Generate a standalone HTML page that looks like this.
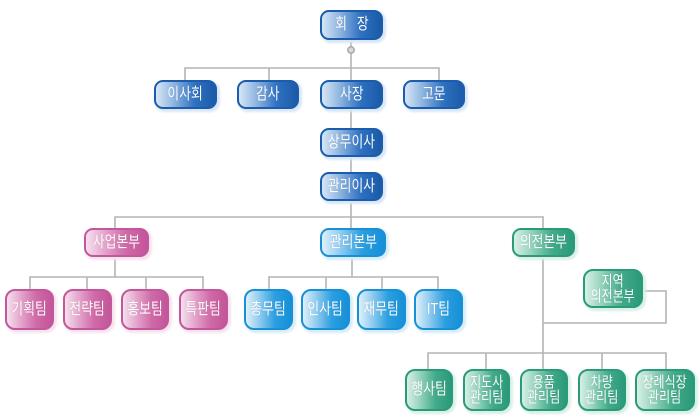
<!DOCTYPE html>
<html><head><meta charset="utf-8">
<style>
html,body{margin:0;padding:0;background:#fff;}
#c{position:relative;width:700px;height:420px;overflow:hidden;background:#fff;font-family:"Liberation Sans","Noto Sans CJK KR","NanumGothic",sans-serif;}
svg{position:absolute;left:0;top:0;}
.n{position:absolute;box-sizing:border-box;border:2px solid;border-radius:9px;color:#fff;display:flex;align-items:center;justify-content:center;text-align:center;font-size:16px;line-height:16px;white-space:nowrap;text-shadow:0 0 1px rgba(0,0,0,0.2);}
.n span{display:inline-block;transform:scaleX(0.8);}
.t{border-radius:10px;}
.b{border-color:#1b5dac;background:linear-gradient(to right,#d6e6f6 0%,#8fb5e0 30%,#2f72c2 65%,#1a5aa8 100%);box-shadow:2px 2px 2px 1px #d8e6f6;}
.lb{border-color:#1890d8;background:linear-gradient(to right,#dff0fa 0%,#8fcbef 30%,#2a9ee0 65%,#1690d8 100%);box-shadow:2px 2px 2px 1px #d6ecf8;}
.p{border-color:#c2579b;background:linear-gradient(to right,#f6e0ee 0%,#e4a6cc 30%,#cf6aa8 65%,#c4559a 100%);box-shadow:2px 2px 2px 1px #f6e2ee;}
.g{border-color:#2b9a7a;background:linear-gradient(to right,#d8f0e6 0%,#94d2bc 30%,#42aa8a 65%,#2b9a7a 100%);box-shadow:2px 2px 2px 1px #d8f0e6;}
.two{font-size:15px;line-height:15px;}
</style></head><body>
<div id="c">
<svg width="700" height="420" viewBox="0 0 700 420">
<g stroke="#b4b4b4" stroke-width="1.6" fill="none">
<line x1="351" y1="40" x2="351" y2="80"/>
<polyline points="185,80 185,68 439,68 439,80"/>
<line x1="269" y1="68" x2="269" y2="80"/>
<line x1="351" y1="109" x2="351" y2="128"/>
<line x1="351" y1="157" x2="351" y2="172"/>
<line x1="351" y1="201" x2="351" y2="228"/>
<polyline points="115,228 115,217 543,217 543,228"/>
<line x1="115" y1="257" x2="115" y2="277"/>
<polyline points="30,289 30,277 203,277 203,289"/>
<line x1="87" y1="277" x2="87" y2="289"/>
<line x1="146" y1="277" x2="146" y2="289"/>
<line x1="352" y1="257" x2="352" y2="277"/>
<polyline points="269,289 269,277 438,277 438,289"/>
<line x1="326" y1="277" x2="326" y2="289"/>
<line x1="382" y1="277" x2="382" y2="289"/>
<line x1="543" y1="257" x2="543" y2="353"/>
<polyline points="643,291 666,291 666,323 543,323"/>
<polyline points="428,369 428,353 666,353 666,369"/>
<line x1="486" y1="353" x2="486" y2="369"/>
<line x1="543" y1="353" x2="543" y2="369"/>
<line x1="602" y1="353" x2="602" y2="369"/>
</g>
<circle cx="351" cy="50" r="3.2" fill="#d8d8d8" stroke="#a8a8a8" stroke-width="1.5"/>
</svg>

<div class="n b" style="left:320px;top:10px;width:63px;height:30px;"><span style="word-spacing:8px;">회 장</span></div>
<div class="n b" style="left:154px;top:80px;width:63px;height:29px;"><span>이사회</span></div>
<div class="n b" style="left:237px;top:80px;width:62px;height:29px;"><span>감사</span></div>
<div class="n b" style="left:320px;top:80px;width:63px;height:29px;"><span>사장</span></div>
<div class="n b" style="left:403px;top:80px;width:62px;height:29px;"><span>고문</span></div>
<div class="n b" style="left:320px;top:128px;width:63px;height:29px;"><span>상무이사</span></div>
<div class="n b" style="left:320px;top:172px;width:63px;height:29px;"><span>관리이사</span></div>

<div class="n p" style="left:84px;top:228px;width:65px;height:29px;"><span>사업본부</span></div>
<div class="n lb" style="left:320px;top:228px;width:66px;height:29px;"><span>관리본부</span></div>
<div class="n g" style="left:512px;top:228px;width:63px;height:29px;"><span>의전본부</span></div>

<div class="n p t" style="left:5px;top:289px;width:49px;height:41px;"><span>기획팀</span></div>
<div class="n p t" style="left:63px;top:289px;width:49px;height:41px;"><span>전략팀</span></div>
<div class="n p t" style="left:121px;top:289px;width:48px;height:41px;"><span>홍보팀</span></div>
<div class="n p t" style="left:179px;top:289px;width:49px;height:41px;"><span>특판팀</span></div>

<div class="n lb t" style="left:244px;top:289px;width:49px;height:41px;"><span>총무팀</span></div>
<div class="n lb t" style="left:301px;top:289px;width:49px;height:41px;"><span>인사팀</span></div>
<div class="n lb t" style="left:357px;top:289px;width:49px;height:41px;"><span>재무팀</span></div>
<div class="n lb t" style="left:414px;top:289px;width:49px;height:41px;"><span>IT팀</span></div>

<div class="n g t two" style="left:583px;top:269px;width:60px;height:39px;"><span>지역<br>의전본부</span></div>

<div class="n g t" style="left:405px;top:369px;width:48px;height:42px;"><span>행사팀</span></div>
<div class="n g t two" style="left:463px;top:369px;width:47px;height:42px;"><span>지도사<br>관리팀</span></div>
<div class="n g t two" style="left:520px;top:369px;width:48px;height:42px;"><span>용품<br>관리팀</span></div>
<div class="n g t two" style="left:578px;top:369px;width:48px;height:42px;"><span>차량<br>관리팀</span></div>
<div class="n g t two" style="left:635px;top:369px;width:60px;height:42px;"><span>장례식장<br>관리팀</span></div>
</div>
</body></html>
